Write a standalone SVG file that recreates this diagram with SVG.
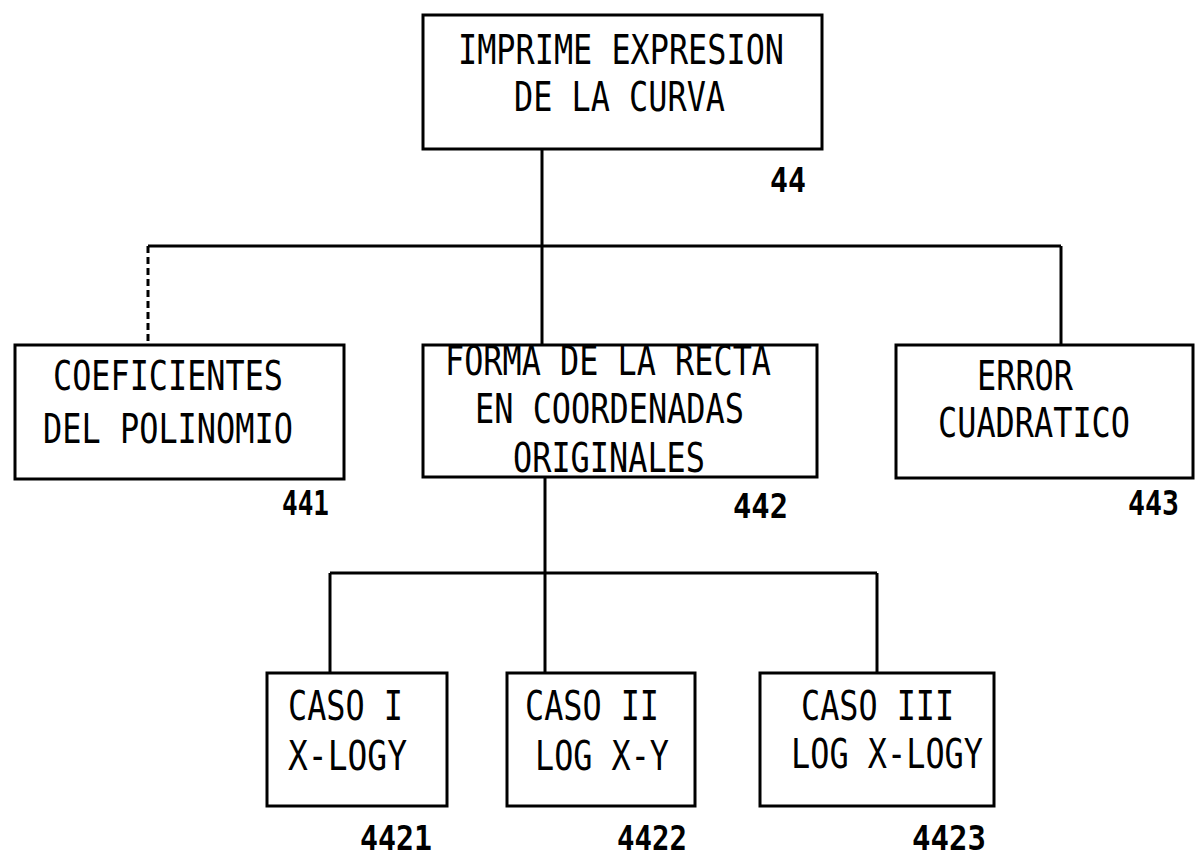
<svg xmlns="http://www.w3.org/2000/svg" width="1204" height="864" viewBox="0 0 1204 864">
<style>
.box{fill:none;stroke:#000;stroke-width:3}
.ln{fill:none;stroke:#000;stroke-width:3}
.t{font-family:"DejaVu Sans Mono","Liberation Mono",monospace;font-size:40px;fill:#000}
.n{font-family:"DejaVu Sans Mono","Liberation Mono",monospace;font-weight:bold;font-size:33px;fill:#000}
</style>
<rect width="1204" height="864" fill="#fff"/>
<g id="connectors">
<line class="ln" x1="542" y1="149" x2="542" y2="345"/>
<line class="ln" x1="148" y1="246" x2="1061" y2="246"/>
<line class="ln" x1="148" y1="246" x2="148" y2="345" stroke-dasharray="7 4"/>
<line class="ln" x1="1061" y1="246" x2="1061" y2="345"/>
<line class="ln" x1="545" y1="477" x2="545" y2="673"/>
<line class="ln" x1="330" y1="573" x2="877" y2="573"/>
<line class="ln" x1="330" y1="573" x2="330" y2="673"/>
<line class="ln" x1="877" y1="573" x2="877" y2="673"/>
</g>
<g id="n44">
<rect class="box" x="423" y="15" width="399" height="134"/>
<text class="t" x="458" y="64" textLength="326" lengthAdjust="spacingAndGlyphs">IMPRIME EXPRESION</text>
<text class="t" x="514" y="111" textLength="211" lengthAdjust="spacingAndGlyphs">DE LA CURVA</text>
<text class="n" x="770" y="192" textLength="36" lengthAdjust="spacingAndGlyphs">44</text>
</g>
<g id="n441">
<rect class="box" x="15" y="345" width="329" height="134"/>
<text class="t" x="53" y="390" textLength="230" lengthAdjust="spacingAndGlyphs">COEFICIENTES</text>
<text class="t" x="43" y="443" textLength="250" lengthAdjust="spacingAndGlyphs">DEL POLINOMIO</text>
<text class="n" x="282" y="515" textLength="47" lengthAdjust="spacingAndGlyphs">441</text>
</g>
<g id="n442">
<rect class="box" x="423" y="345" width="394" height="132"/>
<text class="t" x="445" y="375" textLength="326" lengthAdjust="spacingAndGlyphs">FORMA DE LA RECTA</text>
<text class="t" x="475" y="423" textLength="269" lengthAdjust="spacingAndGlyphs">EN COORDENADAS</text>
<text class="t" x="513" y="472" textLength="192" lengthAdjust="spacingAndGlyphs">ORIGINALES</text>
<text class="n" x="733" y="518" textLength="55" lengthAdjust="spacingAndGlyphs">442</text>
</g>
<g id="n443">
<rect class="box" x="896" y="345" width="297" height="133"/>
<text class="t" x="977" y="390" textLength="96" lengthAdjust="spacingAndGlyphs">ERROR</text>
<text class="t" x="938" y="437" textLength="192" lengthAdjust="spacingAndGlyphs">CUADRATICO</text>
<text class="n" x="1128" y="515" textLength="51" lengthAdjust="spacingAndGlyphs">443</text>
</g>
<g id="n4421">
<rect class="box" x="267" y="673" width="180" height="133"/>
<text class="t" x="288" y="720" textLength="115" lengthAdjust="spacingAndGlyphs">CASO I</text>
<text class="t" x="288" y="770" textLength="119" lengthAdjust="spacingAndGlyphs">X-LOGY</text>
<text class="n" x="360" y="850" textLength="72" lengthAdjust="spacingAndGlyphs">4421</text>
</g>
<g id="n4422">
<rect class="box" x="507" y="673" width="188" height="133"/>
<text class="t" x="525" y="720" textLength="134" lengthAdjust="spacingAndGlyphs">CASO II</text>
<text class="t" x="535" y="770" textLength="134" lengthAdjust="spacingAndGlyphs">LOG X-Y</text>
<text class="n" x="617" y="850" textLength="70" lengthAdjust="spacingAndGlyphs">4422</text>
</g>
<g id="n4423">
<rect class="box" x="760" y="673" width="234" height="133"/>
<text class="t" x="801" y="720" textLength="153" lengthAdjust="spacingAndGlyphs">CASO III</text>
<text class="t" x="791" y="768" textLength="192" lengthAdjust="spacingAndGlyphs">LOG X-LOGY</text>
<text class="n" x="912" y="850" textLength="74" lengthAdjust="spacingAndGlyphs">4423</text>
</g>
</svg>
